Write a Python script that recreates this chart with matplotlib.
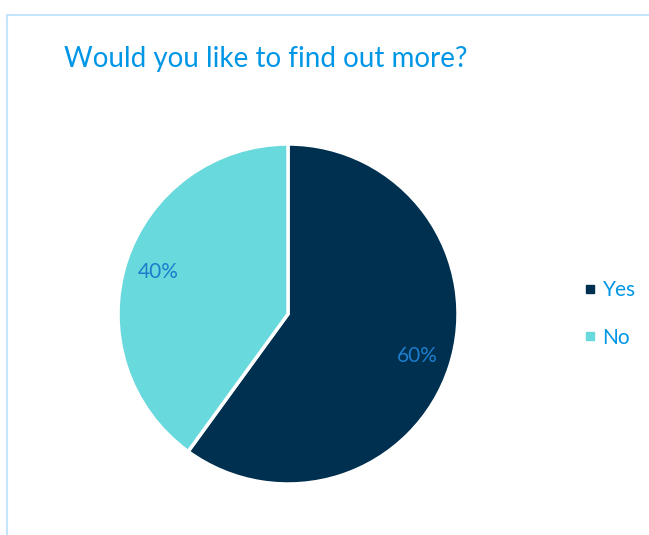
import matplotlib
matplotlib.use("Agg")
from matplotlib import pyplot as plt
from matplotlib.lines import Line2D

labels = ["Yes", "No"]
shares = [60, 40]
colors = ["#003050", "#68d9dc"]

title_text = "Would you like to find out more?"
title_color = "#0096e6"
pct_color = "#1e7ccc"

W, H = 649, 535
fig = plt.figure(figsize=(W / 100, H / 100), dpi=100)
plt.rcParams["font.family"] = ["Lato", "DejaVu Sans"]

# chart border (top and left edges only)
border = "#c4e5fa"
fig.add_artist(Line2D([7 / W, 1], [1 - 15 / H, 1 - 15 / H], color=border, lw=1.5,
                      transform=fig.transFigure))
fig.add_artist(Line2D([7 / W, 7 / W], [0, 1 - 15 / H], color=border, lw=1.5,
                      transform=fig.transFigure))

cx, cy, r = 288, 314, 170
ax = fig.add_axes([(cx - r) / W, (H - cy - r) / H, 2 * r / W, 2 * r / H])
wedges, texts, autotexts = ax.pie(
    shares,
    colors=colors,
    startangle=90,
    counterclock=False,
    autopct="%1.0f%%",
    pctdistance=0.8,
    wedgeprops=dict(edgecolor="white", linewidth=2.5),
    textprops=dict(color=pct_color, fontsize=15),
)
ax.set_xlim(-1, 1)
ax.set_ylim(-1, 1)
ax.set_aspect("equal")
ax.axis("off")

fig.text(266 / W, 1 - 59 / H, title_text, ha="center", va="center",
         color=title_color, fontsize=20)

handles = [Line2D([], [], marker="s", linestyle="none", markersize=6,
                  markerfacecolor=c, markeredgecolor=c) for c in colors]
fig.legend(handles, labels, loc="center left", bbox_to_anchor=(565 / W, 1 - 314 / H),
           frameon=False, handlelength=0.6, handletextpad=0.3, labelspacing=1.3,
           prop=dict(size=15), labelcolor=title_color)

fig.savefig("out.png", dpi=100)
